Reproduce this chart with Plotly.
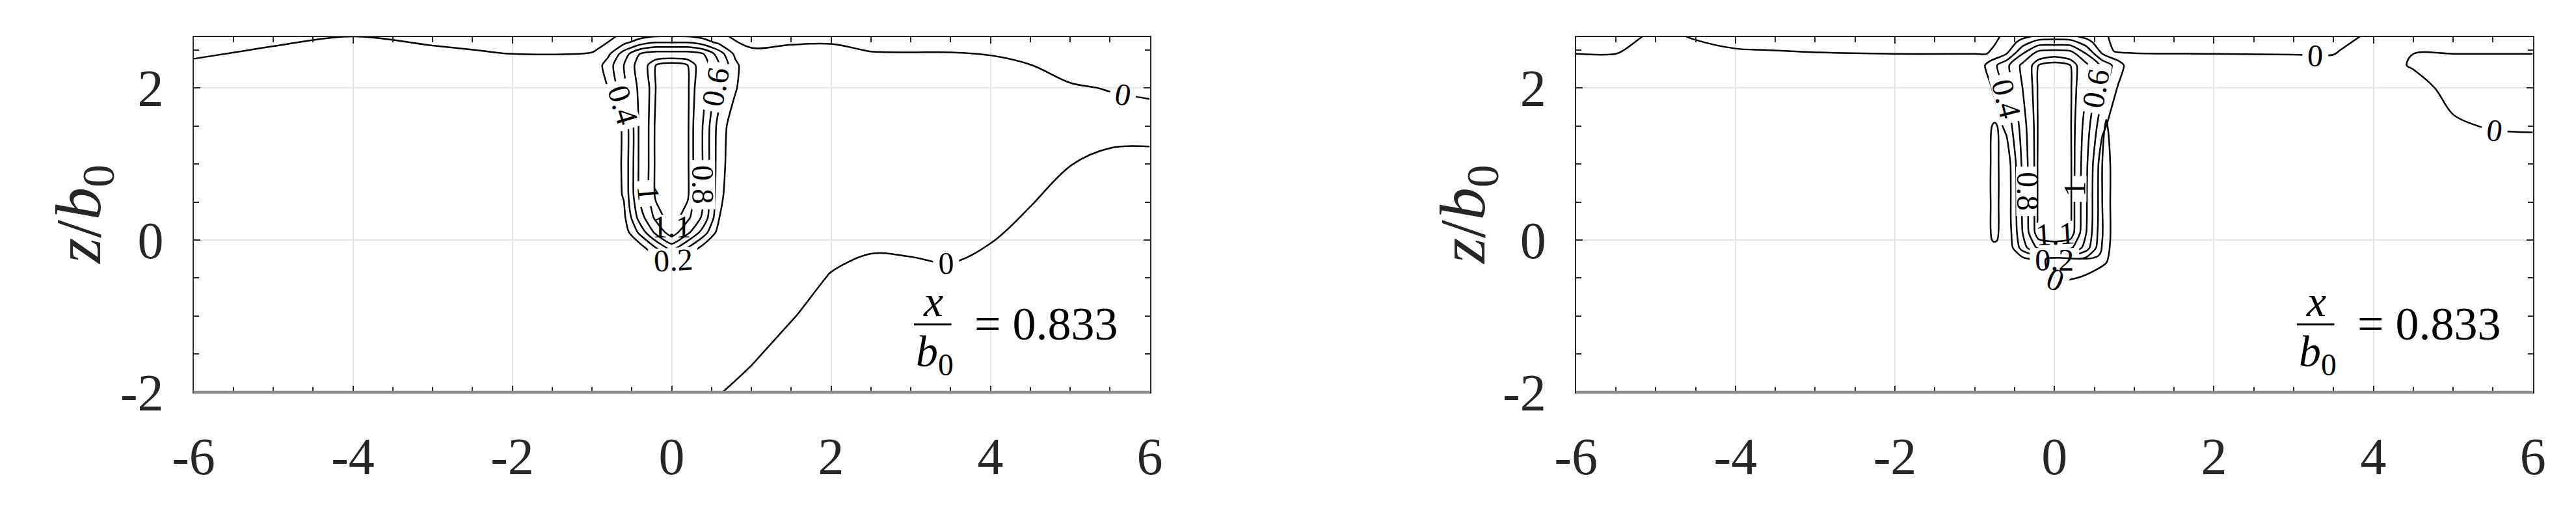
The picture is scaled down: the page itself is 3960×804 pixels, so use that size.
import plotly.graph_objects as go

# ---------------- data ----------------
# tick labels
x_tickvals = [-6, -4, -2, 0, 2, 4, 6]
x_ticktext = ["-6", "-4", "-2", "0", "2", "4", "6"]
y_tickvals = [-2, 0, 2]
y_ticktext = ["-2", "0", "2"]

# jet core field (levels 0.2 ... 1.0 and 1.1), left panel
jet_x = [-1.5, -1.0, -0.8, -0.6, -0.4, -0.2, 0.0, 0.2, 0.4, 0.6, 0.8, 1.0, 1.5]
left_jet_y = [-2.0, -0.5, -0.3, -0.1, 0.1, 0.3, 0.6, 1.0, 1.5, 2.0, 2.3, 2.45, 2.6, 2.7]
left_jet_z = [
    [0, 0, 0, 0, 0, 0, 0, 0, 0, 0, 0, 0, 0],
    [0, 0, 0, 0, 0, 0, 0, 0, 0, 0, 0, 0, 0],
    [0, 0, 0, 0, 0, 0.05, 0.19, 0.05, 0, 0, 0, 0, 0],
    [0, 0, 0, 0, 0.1, 0.4, 0.7, 0.4, 0.12, 0, 0, 0, 0],
    [0, 0, 0, 0.08, 0.45, 0.85, 1.1, 0.85, 0.5, 0.1, 0, 0, 0],
    [0, 0, 0.02, 0.15, 0.7, 1.05, 1.15, 1.05, 0.75, 0.2, 0.02, 0, 0],
    [0, 0, 0.05, 0.22, 0.85, 1.12, 1.16, 1.12, 0.8, 0.25, 0.05, 0, 0],
    [0, 0, 0.05, 0.23, 0.85, 1.12, 1.16, 1.12, 0.78, 0.28, 0.06, 0, 0],
    [0, 0, 0.06, 0.23, 0.85, 1.12, 1.16, 1.12, 0.78, 0.3, 0.08, 0, 0],
    [0, 0.02, 0.2, 0.55, 0.85, 1.1, 1.16, 1.12, 0.85, 0.5, 0.22, 0.02, 0],
    [0, 0.02, 0.3, 0.6, 0.9, 1.1, 1.15, 1.1, 0.9, 0.6, 0.25, 0.02, 0],
    [0, 0, 0.15, 0.5, 0.8, 0.9, 0.9, 0.9, 0.8, 0.5, 0.15, 0, 0],
    [0, 0, 0, 0.15, 0.3, 0.4, 0.4, 0.4, 0.3, 0.15, 0, 0, 0],
    [0, 0, 0, 0.05, 0.1, 0.15, 0.15, 0.15, 0.1, 0.05, 0, 0, 0],
]

# jet core field, right panel
right_jet_y = [-2.0, -0.5, -0.3, -0.1, 0.1, 0.3, 0.6, 1.0, 1.5, 2.0, 2.3, 2.45, 2.6, 2.7]
right_jet_z = [
    [0, 0, 0, 0, 0, 0, 0, 0, 0, 0, 0, 0, 0],
    [0, 0, 0, 0, 0, 0, 0, 0, 0, 0, 0, 0, 0],
    [0, 0, 0, 0, 0.02, 0.05, 0.05, 0.05, 0.02, 0, 0, 0, 0],
    [0, 0, 0, 0.01, 0.5, 0.85, 0.9, 0.85, 0.5, 0.01, 0, 0, 0],
    [0, 0, 0, 0.03, 0.6, 1.12, 1.15, 1.12, 0.6, 0.03, 0, 0, 0],
    [0, 0, 0.01, 0.05, 0.62, 1.13, 1.16, 1.13, 0.62, 0.05, 0.01, 0, 0],
    [0, 0, 0.01, 0.05, 0.62, 1.13, 1.16, 1.13, 0.62, 0.05, 0.01, 0, 0],
    [0, 0, 0.01, 0.06, 0.64, 1.13, 1.16, 1.13, 0.64, 0.06, 0.01, 0, 0],
    [0, 0, 0.05, 0.25, 0.7, 1.12, 1.16, 1.12, 0.7, 0.25, 0.05, 0, 0],
    [0, 0.02, 0.18, 0.45, 0.8, 1.12, 1.16, 1.12, 0.8, 0.45, 0.18, 0.02, 0],
    [0, 0.02, 0.3, 0.55, 0.85, 1.1, 1.15, 1.1, 0.85, 0.55, 0.3, 0.02, 0],
    [0, 0, 0.05, 0.2, 0.6, 0.9, 0.95, 0.9, 0.6, 0.2, 0.05, 0, 0],
    [0, 0, 0, 0.05, 0.3, 0.5, 0.5, 0.5, 0.3, 0.05, 0, 0, 0],
    [0, 0, 0, 0, 0.1, 0.2, 0.25, 0.2, 0.1, 0, 0, 0, 0],
]

# far field (zero level), left panel
ff_left_x = [-6, -5, -4, -3, -2, -1, -0.6, 0, 0.6, 1, 1.5, 2, 2.5, 3, 3.5, 4, 4.5, 5, 5.5, 6]
ff_left_y = [-2, -1.5, -1, -0.5, 0, 0.5, 1, 1.5, 2, 2.3, 2.5, 2.7]
ff_left_z = [
    [.5, .5, .5, .5, .5, .5, .5, .3, .04, -.35, -.5, -.5, -.5, -.5, -.5, -.5, -.5, -.5, -.5, -.5],
    [.5, .5, .5, .5, .5, .5, .5, .5, .5, .15, -.43, -.5, -.5, -.5, -.5, -.5, -.5, -.5, -.5, -.5],
    [.5, .5, .5, .5, .5, .5, .5, .5, .5, .5, .07, -.5, -.5, -.5, -.5, -.5, -.5, -.5, -.5, -.5],
    [.5, .5, .5, .5, .5, .5, .5, .5, .5, .5, .5, -.08, -.32, -.28, -.2, -.45, -.5, -.5, -.5, -.5],
    [.5, .5, .5, .5, .5, .5, .5, .5, .5, .5, .5, .42, .18, .22, .3, .05, -.44, -.5, -.5, -.5],
    [.5, .5, .5, .5, .5, .5, .5, .5, .5, .5, .5, .5, .5, .5, .5, .5, .06, -.48, -.5, -.5],
    [.5, .5, .5, .5, .5, .5, .5, .5, .5, .5, .5, .5, .5, .5, .5, .5, .5, .02, -.21, -.23],
    [.5, .5, .5, .5, .5, .5, .5, .5, .5, .5, .5, .5, .5, .5, .5, .5, .5, .5, .29, .27],
    [.385, .5, .5, .5, .45, .47, .5, .5, .5, .5, .5, .5, .48, .47, .47, .43, .31, .07, -.03, -.11],
    [.085, .25, .38, .26, .15, .17, .4, .5, .4, .23, .27, .28, .18, .17, .17, .13, .01, -.23, -.33, -.41],
    [-.115, .05, .18, .06, -.05, -.03, .2, .5, .2, .03, .07, .08, -.02, -.03, -.03, -.07, -.19, -.43, -.5, -.5],
    [-.315, -.15, -.02, -.14, -.25, -.23, .05, .3, .05, -.17, -.13, -.12, -.22, -.23, -.23, -.27, -.39, -.5, -.5, -.5],
]

# far field (zero level), right panel
ff_right_x = [-6, -5.5, -5, -4.5, -4, -3, -2, -1, -0.85, -0.75, -0.65, 0, 0.55, 0.65, 0.75, 1, 2, 3, 3.5, 4, 4.5, 5, 5.5, 6]
ff_right_y = [-2, -1, -0.5, -0.25, 0, 0.5, 1, 1.5, 2, 2.3, 2.5, 2.7]
ff_right_z = [
    [.5, .5, .5, .5, .5, .5, .5, .5, .5, .5, .5, .5, .5, .5, .5, .5, .5, .5, .5, .5, .5, .5, .5, .5],
    [.5, .5, .5, .5, .5, .5, .5, .5, .5, .5, .5, .3, .3, .5, .5, .5, .5, .5, .5, .5, .5, .5, .5, .5],
    [.5, .5, .5, .5, .5, .5, .5, .5, .5, .5, .3, -.02, .02, .2, .5, .5, .5, .5, .5, .5, .5, .5, .5, .5],
    [.5, .5, .5, .5, .5, .5, .5, .5, .5, .5, .1, -.02, -.02, -.05, .2, .5, .5, .5, .5, .5, .5, .5, .5, .5],
    [.5, .5, .5, .5, .5, .5, .5, .5, .1, -.05, .1, .3, .1, -.1, .1, .5, .5, .5, .5, .5, .5, .5, .5, .5],
    [.5, .5, .5, .5, .5, .5, .5, .5, .1, -.1, .1, .5, .1, -.1, .1, .5, .5, .5, .5, .5, .5, .5, .5, .5],
    [.5, .5, .5, .5, .5, .5, .5, .5, .1, -.1, .1, .5, .1, -.1, .1, .5, .5, .5, .5, .5, .5, .5, .5, .5],
    [.5, .5, .5, .5, .5, .5, .5, .5, .1, -.05, .1, .5, .1, -.02, .1, .5, .5, .5, .5, .5, .5, .1, -.06, -.1],
    [.5, .5, .5, .5, .5, .5, .5, .5, .5, .5, .5, .5, .3, .1, .3, .5, .5, .5, .5, .5, .27, -.23, -.4, -.4],
    [.15, .15, .4, .35, .22, .17, .15, .15, .15, .2, .4, .5, .4, .3, .2, .16, .15, .14, .14, .3, -.06, -.15, -.15, -.15],
    [-.05, -.05, .2, .1, .02, -.03, -.05, -.05, -.05, .05, .2, .5, .2, .1, -.02, -.04, -.05, -.06, -.06, .3, .02, .05, .05, .05],
    [-.25, -.25, .1, -.05, -.18, -.23, -.25, -.25, -.25, -.1, .03, .3, .1, .02, -.1, -.24, -.25, -.26, -.26, .1, .2, .25, .25, .25],
]

annot_value = "0.833"

# ---------------- figure ----------------
SERIF = "Liberation Serif, Times New Roman, Times, serif"
INK = "#262626"
LABEL_FONT = dict(family=SERIF, size=48, color="black")

fig = go.Figure()


def add_panel(xa, ya, jx, jy, jz, fx, fy, fz):
    fig.add_trace(go.Contour(
        x=fx, y=fy, z=fz, xaxis=xa, yaxis=ya, showscale=False, hoverinfo="skip",
        autocontour=False,
        contours=dict(start=0, end=0.5, size=1, coloring="none", showlabels=True, labelfont=LABEL_FONT),
        line=dict(color="black", width=2.5, smoothing=1.0)))
    fig.add_trace(go.Contour(
        x=jx, y=jy, z=jz, xaxis=xa, yaxis=ya, showscale=False, hoverinfo="skip",
        autocontour=False,
        contours=dict(start=0.2, end=1.01, size=0.2, coloring="none", showlabels=True, labelfont=LABEL_FONT),
        line=dict(color="black", width=2.5, smoothing=0.6)))
    fig.add_trace(go.Contour(
        x=jx, y=jy, z=jz, xaxis=xa, yaxis=ya, showscale=False, hoverinfo="skip",
        autocontour=False,
        contours=dict(start=1.1, end=1.12, size=1, coloring="none", showlabels=True, labelfont=LABEL_FONT),
        line=dict(color="black", width=2.5, smoothing=0.6)))


add_panel("x", "y", jet_x, left_jet_y, left_jet_z, ff_left_x, ff_left_y, ff_left_z)
add_panel("x2", "y2", jet_x, right_jet_y, right_jet_z, ff_right_x, ff_right_y, ff_right_z)

W, H = 3960, 804
top_px, bot_px = 52, 630
ydom = [1 - bot_px / H, 1 - top_px / H]


def xaxis_cfg(l, r, anchor):
    return dict(domain=[l / W, r / W], range=[-6, 6], anchor=anchor,
                tickvals=x_tickvals, ticktext=x_ticktext,
                ticks="inside", ticklen=10, tickwidth=2, tickcolor=INK,
                showline=True, linecolor=INK, linewidth=2, mirror="allticks",
                showgrid=True, gridcolor="#e4e4e4", gridwidth=2, zeroline=False,
                tickfont=dict(family=SERIF, size=80, color=INK), ticklabelstandoff=28,
                minor=dict(ticks="inside", ticklen=8, tickwidth=2, tickcolor=INK, dtick=0.5, tick0=0, showgrid=False))


def yaxis_cfg(anchor):
    return dict(domain=ydom, range=[-2, 2.67], anchor=anchor,
                tickvals=y_tickvals, ticktext=y_ticktext,
                ticks="inside", ticklen=10, tickwidth=2, tickcolor=INK,
                showline=True, linecolor=INK, linewidth=2, mirror="allticks",
                showgrid=True, gridcolor="#e4e4e4", gridwidth=2, zeroline=False,
                tickfont=dict(family=SERIF, size=80, color=INK), ticklabelstandoff=28,
                minor=dict(ticks="inside", ticklen=8, tickwidth=2, tickcolor=INK, dtick=0.5, tick0=0, showgrid=False))


fig.update_layout(
    width=W, height=H, margin=dict(l=0, r=0, t=0, b=0),
    paper_bgcolor="white", plot_bgcolor="white", showlegend=False,
    font=dict(family=SERIF),
    xaxis=xaxis_cfg(260, 1750, "y"), yaxis=yaxis_cfg("x"),
    xaxis2=xaxis_cfg(2414, 3905, "y2"), yaxis2=yaxis_cfg("x2"),
)

shapes = []
annots = []
for xa, ya, title_px in (("x", "y", 88), ("x2", "y2", 2245)):
    # grey bottom frame line
    shapes.append(dict(type="line", xref=f"{xa} domain", yref=f"{ya} domain", x0=0, x1=1, y0=0, y1=0,
                       line=dict(color="#8c8c8c", width=4), layer="above"))
    # fraction bar of x/b0
    shapes.append(dict(type="line", xref=xa, yref=ya, x0=3.04, x1=3.51, y0=-1.11, y1=-1.11,
                       line=dict(color="black", width=3), layer="above"))
    annots.append(dict(xref=xa, yref=ya, x=3.28, y=-0.80, text="<i>x</i>", showarrow=False,
                       font=dict(family=SERIF, size=68, color="black"), xanchor="center", yanchor="middle"))
    annots.append(dict(xref=xa, yref=ya, x=3.30, y=-1.50, text="<i>b</i><sub>0</sub>", showarrow=False,
                       font=dict(family=SERIF, size=68, color="black"), xanchor="center", yanchor="middle"))
    annots.append(dict(xref=xa, yref=ya, x=3.78, y=-1.10, text="= " + annot_value, showarrow=False,
                       font=dict(family=SERIF, size=72, color="black"), xanchor="left", yanchor="middle"))
    annots.append(dict(xref="paper", yref="paper", x=title_px / W, y=1 - 341 / H,
                       text="<i>z</i>/<i>b</i><sub>0</sub>", textangle=-90, showarrow=False,
                       font=dict(family=SERIF, size=100, color=INK), xanchor="center", yanchor="middle"))

fig.update_layout(shapes=shapes, annotations=annots)
fig.write_html("out.html")
